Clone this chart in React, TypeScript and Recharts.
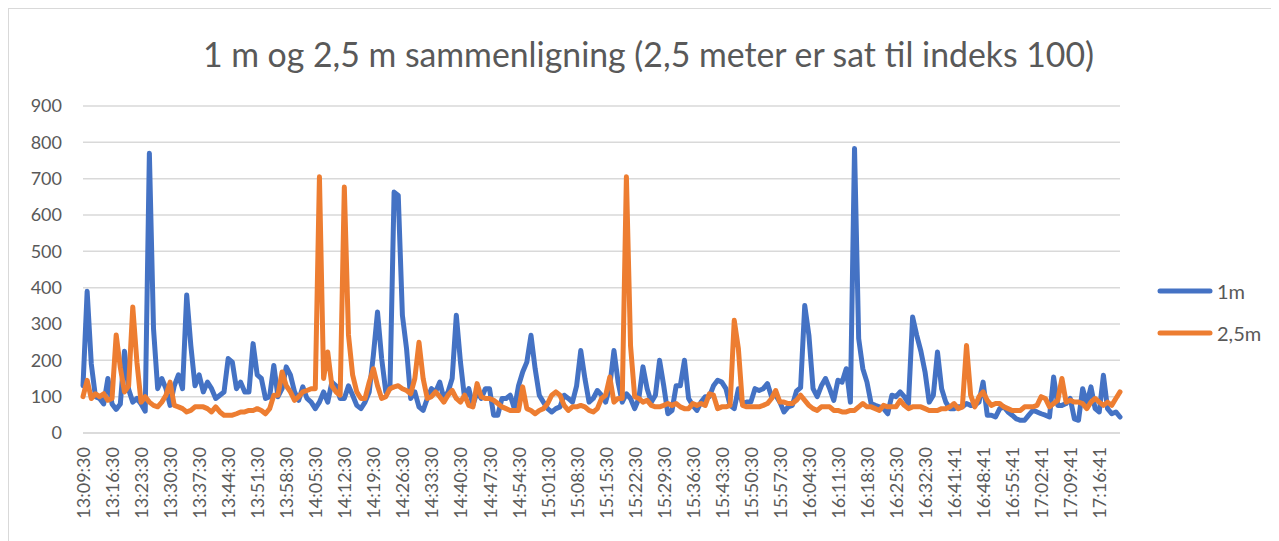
import React from 'react';
import { LineChart, Line, XAxis, YAxis, CartesianGrid, Legend } from 'recharts';

const tickLabels: string[] = [
  '13:09:30', '13:16:30', '13:23:30', '13:30:30', '13:37:30', '13:44:30', '13:51:30', '13:58:30',
  '14:05:30', '14:12:30', '14:19:30', '14:26:30', '14:33:30', '14:40:30', '14:47:30', '14:54:30',
  '15:01:30', '15:08:30', '15:15:30', '15:22:30', '15:29:30', '15:36:30', '15:43:30', '15:50:30',
  '15:57:30', '16:04:30', '16:11:30', '16:18:30', '16:25:30', '16:32:30', '16:41:41', '16:48:41',
  '16:55:41', '17:02:41', '17:09:41', '17:16:41',
];

const series1m: number[] = [
  130, 390, 190, 100, 95, 80, 150, 80, 65, 80,
  225, 120, 85, 95, 80, 60, 770, 287, 122, 150,
  122, 76, 130, 160, 122, 380, 240, 130, 160, 113,
  140, 122, 95, 104, 113, 205, 195, 122, 140, 113,
  113, 246, 160, 150, 95, 100, 186, 100, 122, 182,
  160, 113, 90, 127, 95, 85, 67, 85, 113, 85,
  140, 130, 95, 95, 130, 104, 76, 67, 85, 113,
  214, 333, 205, 113, 122, 663, 654, 324, 232, 95,
  113, 72, 62, 95, 122, 113, 140, 95, 113, 150,
  324, 195, 95, 122, 76, 113, 95, 122, 122, 49,
  49, 95, 95, 104, 67, 130, 168, 195, 269, 177,
  104, 85, 67, 58, 67, 72, 104, 95, 85, 130,
  227, 150, 85, 95, 117, 104, 85, 130, 227, 140,
  85, 108, 95, 67, 95, 182, 122, 85, 104, 200,
  130, 53, 62, 130, 130, 200, 95, 76, 62, 85,
  100, 100, 130, 145, 140, 122, 76, 67, 122, 81,
  85, 85, 122, 117, 122, 136, 100, 104, 85, 58,
  72, 76, 115, 125, 351, 269, 122, 100, 130, 150,
  122, 90, 145, 140, 177, 85, 783, 260, 177, 140,
  81, 76, 72, 67, 53, 104, 100, 113, 100, 81,
  319, 269, 225, 168, 85, 104, 223, 122, 85, 67,
  67, 72, 72, 81, 76, 76, 85, 140, 49, 49,
  44, 67, 72, 58, 49, 39, 35, 35, 49, 62,
  58, 53, 49, 44, 154, 76, 76, 81, 95, 39,
  35, 122, 81, 127, 67, 58, 159, 67, 53, 58,
  44,
];

const series25m: number[] = [
  100, 145, 95, 108, 100, 108, 90, 95, 270, 180,
  113, 130, 347, 195, 85, 100, 85, 76, 72, 85,
  104, 140, 76, 72, 67, 58, 62, 72, 72, 72,
  67, 58, 72, 58, 49, 49, 49, 53, 58, 58,
  62, 62, 67, 62, 53, 67, 104, 104, 168, 130,
  113, 90, 100, 113, 117, 122, 122, 705, 150, 223,
  130, 113, 104, 677, 270, 160, 113, 95, 95, 140,
  177, 130, 95, 100, 122, 127, 130, 122, 117, 108,
  150, 250, 150, 95, 100, 113, 100, 85, 104, 117,
  95, 85, 104, 76, 72, 136, 100, 95, 95, 90,
  81, 72, 67, 62, 62, 62, 127, 67, 62, 53,
  62, 67, 81, 104, 113, 104, 76, 62, 72, 72,
  76, 72, 62, 58, 67, 95, 104, 154, 85, 95,
  95, 705, 240, 100, 95, 85, 90, 76, 72, 72,
  76, 81, 76, 81, 72, 67, 67, 81, 76, 81,
  76, 108, 104, 67, 72, 72, 76, 310, 232, 76,
  72, 72, 72, 72, 76, 81, 95, 117, 85, 85,
  81, 81, 90, 104, 90, 76, 67, 62, 72, 72,
  72, 62, 62, 58, 58, 62, 62, 72, 81, 72,
  72, 67, 62, 76, 72, 72, 72, 90, 76, 67,
  72, 72, 72, 67, 62, 62, 62, 67, 67, 72,
  81, 67, 72, 241, 104, 72, 100, 113, 90, 76,
  81, 81, 72, 67, 62, 62, 62, 72, 72, 72,
  76, 100, 95, 72, 81, 90, 150, 85, 90, 85,
  85, 81, 67, 85, 95, 85, 76, 85, 76, 95,
  113,
];

const yTicks: number[] = [0, 100, 200, 300, 400, 500, 600, 700, 800, 900];
const seriesNames: string[] = ['1m', '2,5m'];
const seriesColors: string[] = ['#4472C4', '#ED7D31'];
const title = '1 m og 2,5 m sammenligning (2,5 meter er sat til indeks 100)';
const LABEL_STEP = 7;

function addMinutes(label: string, mins: number): string {
  const [h, m, s] = label.split(':').map(Number);
  const total = h * 3600 + m * 60 + s + mins * 60;
  const hh = Math.floor(total / 3600);
  const mm = Math.floor((total % 3600) / 60);
  const ss = total % 60;
  const p = (n: number) => String(n).padStart(2, '0');
  return `${p(hh)}:${p(mm)}:${p(ss)}`;
}

const categories: string[] = series1m.map((_, i) =>
  addMinutes(tickLabels[Math.floor(i / LABEL_STEP)], i % LABEL_STEP)
);

const data = categories.map((t, i) => ({ t, m1: series1m[i], m25: series25m[i] }));

const FONT = 'Lato, "Liberation Sans", sans-serif';
const TEXT = '#595959';

const XTick = (props: any) => {
  const { x, y, payload } = props;
  return (
    <text
      x={x}
      y={y}
      transform={`rotate(-90 ${x} ${y})`}
      textAnchor="end"
      dominantBaseline="central"
      fill={TEXT}
      fontSize={18}
      fontFamily={FONT}
    >
      {payload.value}
    </text>
  );
};

const renderLegend = (props: any) => {
  const { payload } = props;
  return (
    <div style={{ fontFamily: FONT }}>
      {(payload || []).map((entry: any, idx: number) => (
        <div key={idx} style={{ display: 'flex', alignItems: 'center', height: 42 }}>
          <svg width={56} height={8} style={{ display: 'block' }}>
            <line x1={3} y1={4} x2={53} y2={4} stroke={entry.color} strokeWidth={5} strokeLinecap="round" />
          </svg>
          <span style={{ color: TEXT, fontSize: 20, marginLeft: 4, whiteSpace: 'nowrap' }}>{entry.value}</span>
        </div>
      ))}
    </div>
  );
};

export default function App() {
  return (
    <div
      style={{
        position: 'relative',
        width: 1264,
        height: 560,
        border: '1px solid #d9d9d9',
        boxSizing: 'border-box',
        background: '#fff',
        fontFamily: FONT,
      }}
    >
      <div
        style={{
          position: 'absolute',
          left: 0,
          top: 25,
          width: 1279,
          textAlign: 'center',
          fontSize: 33.8,
          color: TEXT,
          fontFamily: FONT,
          whiteSpace: 'nowrap',
          lineHeight: '40px',
        }}
      >
        {title}
      </div>
      <LineChart
        width={1262}
        height={532}
        data={data}
        margin={{ top: 97, right: 151, bottom: 0, left: 0 }}
      >
        <CartesianGrid vertical={false} stroke="#d9d9d9" strokeWidth={1.5} />
        <XAxis
          dataKey="t"
          interval={LABEL_STEP - 1}
          tick={<XTick />}
          tickLine={false}
          tickMargin={8}
          axisLine={{ stroke: '#d9d9d9', strokeWidth: 1.5 }}
          height={108}
        />
        <YAxis
          domain={[0, 900]}
          ticks={yTicks}
          interval={0}
          axisLine={false}
          tickLine={false}
          tickMargin={15}
          width={74}
          tick={{ fill: TEXT, fontSize: 18, fontFamily: FONT }}
        />
        <Legend
          layout="vertical"
          align="center"
          verticalAlign="middle"
          wrapperStyle={{ left: 1148, top: 261, width: 114 }}
          content={renderLegend}
        />
        <Line
          type="linear"
          dataKey="m1"
          name={seriesNames[0]}
          stroke={seriesColors[0]}
          strokeWidth={5}
          strokeLinejoin="round"
          strokeLinecap="round"
          dot={false}
          isAnimationActive={false}
        />
        <Line
          type="linear"
          dataKey="m25"
          name={seriesNames[1]}
          stroke={seriesColors[1]}
          strokeWidth={5}
          strokeLinejoin="round"
          strokeLinecap="round"
          dot={false}
          isAnimationActive={false}
        />
      </LineChart>
    </div>
  );
}
